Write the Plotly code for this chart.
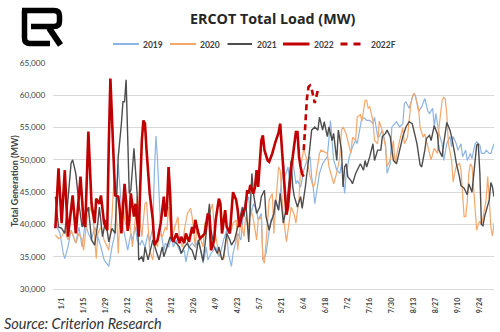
import plotly.graph_objects as go

# ---------------------------------------------------------------------------
# Data: daily ERCOT load (MW); x is the day count from Jan 1
# ---------------------------------------------------------------------------
tick_days = [0, 14, 28, 42, 56, 70, 84, 98, 112, 126,
             140, 154, 168, 182, 196, 210, 224, 238, 252, 266]
tick_text = ["1/1", "1/15", "1/29", "2/12", "2/26", "3/12", "3/26", "4/9", "4/23", "5/7",
             "5/21", "6/4", "6/18", "7/2", "7/16", "7/30", "8/13", "8/27", "9/10", "9/24"]

day_2019 = [-4, -1, 1, 2, 4, 6, 9, 11, 13, 15,
            17, 19, 21, 23, 25, 27, 30, 32, 34, 35,
            36, 37, 38, 39, 41, 42, 44, 45, 47, 48,
            50, 51, 53, 55, 56, 58, 59, 60, 61, 62,
            63, 65, 66, 68, 70, 71, 73, 74, 76, 78,
            79, 81, 83, 85, 87, 88, 90, 92, 93, 95,
            98, 100, 101, 103, 105, 106, 108, 109, 111, 112,
            114, 116, 117, 119, 120, 122, 124, 125, 127, 128,
            130, 132, 133, 135, 136, 138, 139, 141, 142, 144,
            145, 147, 149, 150, 152, 154, 156, 158, 159, 160,
            161, 162, 164, 166, 169, 171, 172, 173, 175, 177,
            178, 179, 180, 181, 183, 185, 187, 188, 190, 191,
            193, 194, 196, 198, 199, 201, 202, 204, 206, 207,
            209, 210, 212, 213, 215, 217, 218, 219, 221, 223,
            224, 225, 227, 229, 231, 233, 234, 236, 237, 238,
            240, 242, 243, 245, 247, 248, 249, 251, 252, 254,
            255, 257, 258, 260, 261, 263, 264, 266, 267, 269,
            270, 272, 273, 275]
load_2019 = [40200, 38600, 35500, 34700, 36500, 39100, 37100, 39600, 36500, 40200,
             38600, 37600, 39600, 38100, 36500, 34500, 33500, 36500, 38600, 44800,
             49400, 46000, 42000, 39600, 37300, 36000, 38600, 37600, 39600, 37600,
             36800, 37600, 36500, 38600, 37300, 39600, 48400, 53700, 49900, 43800,
             39100, 36000, 37100, 36500, 38100, 36500, 37600, 36500, 35500, 36000,
             34200, 36500, 37100, 36500, 37600, 36500, 34000, 36500, 34500, 35500,
             36500, 35000, 35500, 37600, 39100, 35500, 33500, 35500, 37600, 38600,
             37600, 42700, 43200, 44300, 41200, 43200, 42200, 40700, 41700, 34500,
             35500, 39100, 40700, 41200, 43800, 42200, 44500, 49900, 47400, 48900,
             46800, 49900, 46300, 46800, 45800, 48400, 49900, 50500, 47400, 45800,
             43200, 44800, 47900, 49400, 50500, 56100, 53000, 49900, 48400, 47900,
             49400, 46800, 44800, 47900, 50500, 52000, 53000, 52500, 55100, 56600,
             56400, 56100, 56100, 55600, 56600, 53600, 53600, 54600, 52500, 47900,
             49400, 55100, 55600, 55900, 55100, 55600, 58700, 59000, 58000, 59500,
             60300, 60000, 57500, 58200, 59500, 57500, 57200, 58000, 55100, 57200,
             54100, 52500, 49900, 52500, 53600, 52000, 53600, 52500, 51500, 52500,
             50500, 51500, 49900, 51000, 50200, 52500, 52800, 52300, 51000, 51000,
             51500, 51000, 51000, 52500]

day_2020 = [-4, -2, 0, 2, 4, 6, 9, 11, 13, 14,
            16, 18, 20, 22, 23, 25, 27, 30, 32, 33,
            34, 36, 37, 39, 40, 42, 43, 45, 47, 48,
            50, 51, 53, 54, 56, 58, 59, 61, 62, 64,
            66, 67, 68, 70, 72, 74, 75, 77, 78, 80,
            82, 83, 85, 86, 88, 90, 91, 93, 94, 96,
            97, 99, 100, 101, 103, 104, 106, 108, 109, 111,
            112, 114, 116, 117, 119, 120, 122, 124, 125, 127,
            128, 129, 130, 132, 134, 135, 136, 138, 139, 141,
            143, 146, 148, 149, 151, 152, 154, 156, 158, 160,
            161, 163, 164, 165, 167, 169, 170, 172, 173, 175,
            177, 178, 179, 181, 182, 184, 185, 187, 188, 190,
            191, 193, 194, 195, 196, 198, 199, 201, 202, 204,
            206, 207, 209, 211, 212, 214, 215, 217, 218, 220,
            221, 222, 223, 224, 225, 227, 228, 230, 231, 232,
            234, 235, 237, 239, 240, 242, 243, 244, 245, 246,
            248, 249, 250, 251, 253, 254, 255, 256, 257, 258,
            259, 260, 261, 262, 264, 265, 266, 267, 268, 270,
            271, 272, 273, 274, 275]
load_2020 = [38400, 37800, 38100, 39100, 37600, 39100, 37100, 38600, 37600, 36000,
             40700, 42700, 41200, 34700, 38600, 39600, 37600, 36000, 41200, 45800,
             46800, 35500, 41200, 43800, 40700, 39100, 41200, 36500, 41200, 44300,
             40200, 38100, 43200, 43500, 36000, 34500, 37600, 36500, 38600, 38100,
             39600, 39100, 42700, 37600, 39600, 41200, 37600, 36500, 39100, 41700,
             42500, 41200, 36500, 39600, 38000, 36500, 40200, 40700, 41700, 43200,
             39600, 37000, 35500, 35000, 34500, 36500, 39600, 39100, 40200, 40700,
             36000, 40700, 38100, 41200, 39600, 42700, 40700, 37600, 40700, 41200,
             34500, 34000, 37600, 43800, 44800, 38600, 42700, 48900, 48400, 41200,
             37300, 42700, 41500, 40200, 44000, 49000, 51700, 50000, 47500, 45800,
             46300, 49500, 51000, 51500, 51300, 51000, 49000, 47000, 46300, 48000,
             50500, 54600, 55100, 54000, 53000, 51000, 53500, 53000, 56600, 57000,
             56000, 59200, 59200, 58000, 58200, 56000, 53000, 52500, 56000, 54500,
             52000, 49000, 50000, 53000, 49500, 52000, 53000, 55000, 52500, 53500,
             56000, 58500, 59800, 60300, 59800, 58000, 55000, 53500, 54000, 53000,
             51000, 50000, 51800, 51000, 55000, 59200, 59700, 59500, 57000, 52500,
             50000, 46600, 48000, 49000, 49500, 48500, 44800, 41200, 41200, 43500,
             48000, 49400, 49000, 45800, 39100, 40000, 40500, 40000, 41000, 43800,
             47400, 43800, 39600, 38200, 40200]

day_2021 = [-4, -2, 0, 2, 4, 6, 7, 9, 11, 13,
            15, 17, 19, 21, 23, 24, 26, 28, 30, 32,
            34, 36, 38, 39, 40, 41, 43, 44, 46, 47,
            48, 49, 51, 52, 53, 55, 57, 58, 60, 62,
            64, 65, 67, 69, 70, 72, 73, 75, 76, 78,
            80, 81, 83, 85, 87, 88, 90, 91, 93, 94,
            95, 97, 99, 100, 102, 103, 105, 107, 108, 110,
            111, 113, 115, 116, 117, 119, 120, 121, 122, 124,
            126, 127, 129, 130, 132, 133, 135, 136, 138, 139,
            140, 141, 143, 146, 147, 148, 150, 152, 153, 155,
            157, 159, 161, 163, 164, 166, 167, 169, 170, 172,
            173, 175, 176, 178, 179, 180, 181, 182, 184, 185,
            187, 188, 190, 192, 193, 194, 196, 198, 199, 201,
            203, 204, 206, 207, 209, 211, 213, 215, 217, 219,
            221, 223, 224, 226, 228, 229, 231, 232, 234, 235,
            237, 239, 240, 242, 243, 245, 247, 248, 250, 251,
            253, 254, 256, 258, 259, 261, 263, 264, 265, 266,
            267, 268, 269, 271, 272, 273, 274, 275]
load_2021 = [44300, 39600, 39400, 38600, 43800, 49500, 50000, 47900, 43200, 39600,
             41200, 42700, 37600, 36800, 40200, 42700, 38100, 40700, 37300, 39400,
             38600, 50500, 55600, 59000, 59000, 62400, 44800, 45300, 51800, 48400,
             44800, 34500, 35000, 34200, 36500, 34500, 36300, 37600, 36000, 34500,
             36500, 35000, 36500, 38100, 37600, 37300, 37100, 36500, 35500, 36500,
             37100, 36500, 36000, 34500, 37600, 36500, 34300, 36500, 41200, 43200,
             39100, 36500, 35500, 36500, 34500, 35000, 38600, 37600, 36800, 37600,
             38600, 40700, 42700, 41200, 43800, 37300, 43200, 47900, 44800, 41700,
             42700, 44300, 45300, 41200, 39100, 40200, 41700, 43800, 42200, 44800,
             42700, 40200, 42700, 49900, 45800, 44300, 42700, 44300, 42500, 45800,
             49900, 54600, 55100, 54600, 56600, 54600, 55900, 53600, 55100, 53000,
             54100, 49900, 54600, 51500, 45800, 48900, 49400, 47400, 46800, 46300,
             47900, 48400, 49400, 48400, 49900, 48900, 50500, 52500, 49900, 51500,
             51500, 53600, 54100, 54600, 53600, 49900, 49400, 51500, 53600, 55100,
             55900, 55600, 54600, 52500, 49200, 48900, 51500, 53300, 53800, 53000,
             55300, 54000, 51500, 50500, 52500, 55800, 54600, 53600, 51000, 49500,
             47400, 46000, 45600, 44600, 46300, 45000, 49900, 52300, 52500, 48000,
             40000, 39800, 41200, 42700, 43800, 46500, 45800, 44300]

day_2022 = [-4, -2, 0, 2, 4, 7, 9, 12, 14, 15,
            17, 19, 21, 22, 24, 25, 27, 29, 30, 31,
            34, 36, 37, 38, 40, 41, 42, 43, 44, 46,
            47, 49, 50, 51, 52, 53, 54, 56, 58, 59,
            61, 63, 65, 66, 67, 68, 69, 70, 71, 73,
            75, 76, 78, 79, 81, 83, 84, 85, 87, 88,
            90, 91, 93, 94, 95, 97, 98, 100, 101, 102,
            104, 105, 107, 108, 109, 111, 112, 113, 115, 117,
            118, 119, 120, 122, 123, 124, 125, 127, 128, 129,
            131, 132, 134, 136, 137, 138, 139, 140, 141, 142,
            143, 144, 145, 146, 147, 148, 149, 150, 151, 152,
            153, 154]
load_2022 = [39400, 48700, 40200, 48400, 38100, 44500, 38600, 47400, 40200, 39600,
             54400, 43200, 40200, 44000, 43200, 44500, 40200, 39100, 52500, 62600,
             44500, 44300, 42200, 38600, 46300, 43500, 39000, 40500, 44800, 41200,
             43200, 38100, 46000, 53000, 56100, 55600, 51500, 44800, 40700, 36800,
             37600, 40200, 44300, 41200, 42700, 48900, 44800, 38100, 37300, 38600,
             37100, 38100, 37100, 38600, 37300, 39600, 38600, 40700, 38600, 37800,
             38300, 38600, 41700, 41200, 36000, 37600, 40700, 44000, 43200, 38600,
             42200, 39600, 38600, 42200, 45000, 43800, 42200, 39600, 41700, 42700,
             45300, 44800, 46100, 44800, 45800, 48400, 45800, 53000, 53800, 51500,
             49900, 49700, 51000, 52800, 53500, 54200, 55600, 52000, 48400, 43800,
             41500, 42700, 45800, 48900, 50500, 52500, 54300, 54300, 50500, 48900,
             47800, 47400]

day_2022f = [154, 155, 156, 157, 158, 159, 160, 161, 162, 163]
load_2022f = [51500, 55000, 59500, 61300, 61500, 61000, 59800, 58800, 59800, 60800]

series_names = ["2019", "2020", "2021", "2022", "2022F"]

# ---------------------------------------------------------------------------
# Page geometry (pixels) and helpers for placing decorations in paper space
# ---------------------------------------------------------------------------
W, H = 500, 332
PL, PR, PT, PB = 53, 494, 63, 289


def fx(px):
    return (px - PL) / (PR - PL)


def fy(py):
    return (PB - py) / (PB - PT)


def path(cmds):
    out = []
    for c in cmds:
        op, pts = c[0], c[1:]
        coords = " ".join(f"{fx(pts[i]):.5f},{fy(pts[i + 1]):.5f}" for i in range(0, len(pts), 2))
        out.append(f"{op} {coords}")
    return " ".join(out)


styles = {
    "2019": dict(color="#8DB4E2", width=1.2, dash="solid"),
    "2020": dict(color="#F4A86C", width=1.2, dash="solid"),
    "2021": dict(color="#4D4D4D", width=1.4, dash="solid"),
    "2022": dict(color="#C00000", width=2.6, dash="solid"),
    "2022F": dict(color="#C00000", width=2.6, dash="6px,4px"),
}

fig = go.Figure()
for name, xs, ys in [("2019", day_2019, load_2019), ("2020", day_2020, load_2020),
                     ("2021", day_2021, load_2021), ("2022", day_2022, load_2022),
                     ("2022F", day_2022f, load_2022f)]:
    fig.add_trace(go.Scatter(x=xs, y=ys, mode="lines", name=name,
                             line=styles[name], showlegend=False, hoverinfo="skip"))

shapes = []
annotations = []

# legend row
legend_pos = [(113, 139, 141), (170, 196, 198), (227.5, 252, 254.5),
              (283, 309.5, 311.5), (340.5, 362, 369)]
for name, (x0, x1, tx) in zip(series_names, legend_pos):
    st = styles[name]
    lw = 3 if name.startswith("2022") else 2
    shapes.append(dict(type="line", xref="paper", yref="paper",
                       x0=fx(x0), x1=fx(x1), y0=fy(44), y1=fy(44),
                       line=dict(color=st["color"], width=lw,
                                 dash="7px,6px" if name == "2022F" else "solid")))
    annotations.append(dict(text=f"<b>{name}</b>", xref="paper", yref="paper",
                            x=fx(tx), y=fy(44.5), xanchor="left", yanchor="middle",
                            showarrow=False, font=dict(family="Lato", size=8.5, color="#404040")))

# title
annotations.append(dict(text="<b>ERCOT Total Load (MW)</b>", xref="paper", yref="paper",
                        x=fx(272), y=fy(19), xanchor="center", yanchor="middle",
                        showarrow=False, font=dict(family="Open Sans", size=14.3, color="#262626")))
# y-axis title
annotations.append(dict(text="<b>Total Generation (MW)</b>", xref="paper", yref="paper",
                        x=fx(14), y=fy(181), xanchor="center", yanchor="middle",
                        textangle=-90, showarrow=False,
                        font=dict(family="Lato", size=9, color="#404040")))
# source line
annotations.append(dict(text="<i>Source: Criterion Research</i>", xref="paper", yref="paper",
                        x=fx(2), y=fy(323), xanchor="left", yanchor="middle",
                        showarrow=False, font=dict(family="Lato", size=14.5, color="#333333")))

# monogram logo
logo_line = dict(color="black", width=5.5)
shapes.append(dict(type="path", xref="paper", yref="paper", layer="above",
                   path=path([("M", 22, 10.5), ("L", 54, 10.5), ("Q", 59.5, 10.5, 59.5, 16),
                              ("L", 59.5, 21), ("Q", 59.5, 26.5, 54, 26.5), ("L", 31, 26.5)]),
                   line=logo_line))
shapes.append(dict(type="path", xref="paper", yref="paper", layer="above",
                   path=path([("M", 24.5, 10.5), ("L", 24.5, 38), ("Q", 24.5, 43.5, 30, 43.5),
                              ("L", 50, 43.5)]),
                   line=logo_line))
shapes.append(dict(type="path", xref="paper", yref="paper", layer="above",
                   path=path([("M", 49, 28), ("L", 60.5, 45)]),
                   line=dict(color="black", width=6)))

fig.update_layout(
    width=W, height=H,
    margin=dict(l=PL, r=W - PR, t=PT, b=H - PB, pad=0),
    paper_bgcolor="white", plot_bgcolor="white",
    font=dict(family="Lato", color="#404040"),
    shapes=shapes, annotations=annotations,
    showlegend=False,
    xaxis=dict(range=[-5.5, 275], tickvals=tick_days,
               ticktext=[f"<b>{t}</b>" for t in tick_text],
               tickangle=-90, tickfont=dict(size=7, color="#404040"),
               showgrid=False, zeroline=False, showline=True,
               linecolor="#D9D9D9", linewidth=1, ticks="outside", ticklen=5,
               tickcolor="rgba(0,0,0,0)", automargin=False),
    yaxis=dict(range=[30000, 65000], dtick=5000, tickformat=",d",
               tickfont=dict(size=8.2, color="#404040"),
               showgrid=True, gridcolor="#D9D9D9", gridwidth=1,
               zeroline=False, showline=False, ticks="outside", ticklen=5,
               tickcolor="rgba(0,0,0,0)", automargin=False),
)

fig.write_html("out.html")
